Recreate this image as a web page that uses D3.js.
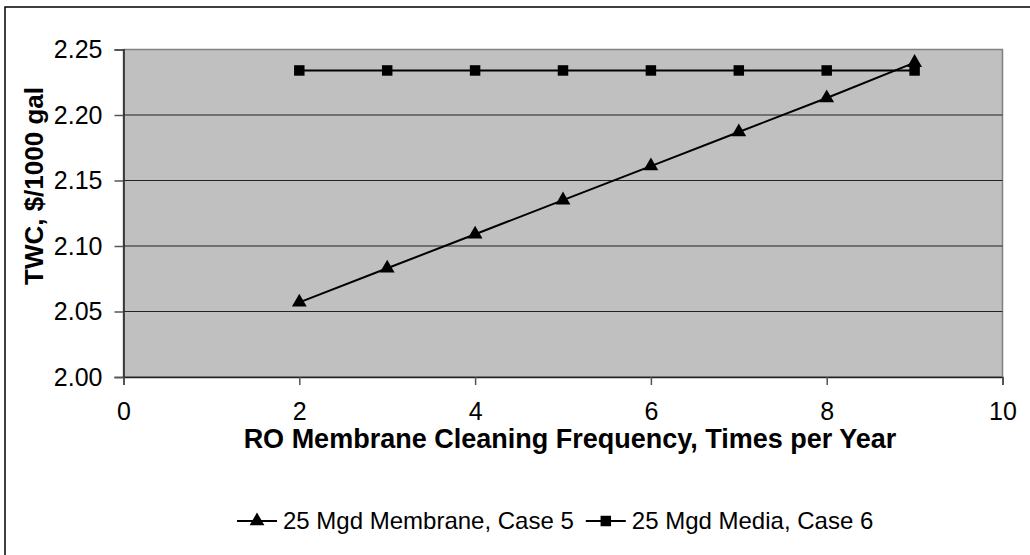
<!DOCTYPE html>
<html>
<head>
<meta charset="utf-8">
<script src="https://cdn.jsdelivr.net/npm/d3@7"></script>
<style>
  body { margin: 0; background: #fff; }
  svg { display: block; font-family: "Liberation Sans", Arial, sans-serif; }
</style>
</head>
<body>
<svg id="MyGraph" width="1030" height="555"></svg>
<script>
// cleaning frequency, times per year
var freq = [2, 3, 4, 5, 6, 7, 8, 9];
// TWC, $/1000 gal
var membraneCase5 = [2.057, 2.083, 2.109, 2.135, 2.161, 2.187, 2.213, 2.240];
var mediaCase6 = [2.234, 2.234, 2.234, 2.234, 2.234, 2.234, 2.234, 2.234];
var seriesNames = ["25 Mgd Membrane, Case 5", "25 Mgd Media, Case 6"];
var xTicks = [0, 2, 4, 6, 8, 10];
var yTicks = [2.00, 2.05, 2.10, 2.15, 2.20, 2.25];

var svg = d3.select("#MyGraph");

// outer chart frame (right/bottom edges fall outside the picture)
svg.append("rect")
    .attr("x", 5).attr("y", 7)
    .attr("width", 1040).attr("height", 560)
    .attr("fill", "#fff")
    .attr("stroke", "#000")
    .attr("stroke-width", 1.5);

var margin = {top: 49.5, left: 123.5},
    width = 1002.5 - 123.5,
    height = 377 - 49.5,
    g = svg.append("g").attr("transform", "translate(" + margin.left + "," + margin.top + ")");

var x = d3.scaleLinear().domain([0, 10]).range([0, width]);
var y = d3.scaleLinear().domain([2.00, 2.25]).range([height, 0]);

g.append("rect")
    .attr("width", width).attr("height", height)
    .attr("fill", "#c0c0c0")
    .attr("stroke", "#808080")
    .attr("stroke-width", 1.5);

// gridlines
g.append("g")
    .selectAll("line")
    .data(yTicks.slice(1, -1))
    .enter().append("line")
    .attr("x1", 0).attr("x2", width)
    .attr("y1", function(d) { return y(d); })
    .attr("y2", function(d) { return y(d); })
    .attr("stroke", "#222")
    .attr("stroke-width", 1);

var yAxis = g.append("g")
    .call(d3.axisLeft(y).tickValues(yTicks).tickFormat(d3.format(".2f")).tickSizeOuter(0).tickSize(9).tickPadding(12));
var xAxis = g.append("g")
    .attr("transform", "translate(0," + height + ")")
    .call(d3.axisBottom(x).tickValues(xTicks).tickSizeOuter(0).tickSize(8).tickPadding(17));

[yAxis, xAxis].forEach(function(a) {
  a.select(".domain").attr("stroke", "#222").attr("stroke-width", 1.5);
  a.selectAll(".tick line").attr("stroke", "#555").attr("stroke-width", 1.5);
  a.selectAll("text").attr("fill", "#000").style("font-size", "25px").style("font-family", "Liberation Sans, Arial, sans-serif");
});

// axis titles
svg.append("text")
    .attr("x", 570).attr("y", 448)
    .attr("text-anchor", "middle")
    .attr("font-weight", "bold")
    .attr("font-size", 27)
    .text("RO Membrane Cleaning Frequency, Times per Year");

svg.append("text")
    .attr("transform", "translate(43,186) rotate(-90)")
    .attr("text-anchor", "middle")
    .attr("font-weight", "bold")
    .attr("font-size", 26)
    .text("TWC, $/1000 gal");

var line = d3.line()
    .x(function(d) { return x(d[0]); })
    .y(function(d) { return y(d[1]); });

var triangle = d3.symbol().type(d3.symbolTriangle).size(95);
var square = d3.symbol().type(d3.symbolSquare).size(110);

function drawSeries(vals, sym) {
  var pts = freq.map(function(f, i) { return [f, vals[i]]; });
  g.append("path")
      .datum(pts)
      .attr("d", line)
      .attr("fill", "none")
      .attr("stroke", "#000")
      .attr("stroke-width", 2);
  g.append("g")
      .selectAll("path")
      .data(pts)
      .enter().append("path")
      .attr("transform", function(d) { return "translate(" + x(d[0]) + "," + y(d[1]) + ")"; })
      .attr("d", sym)
      .attr("fill", "#000");
}

drawSeries(mediaCase6, square);
drawSeries(membraneCase5, triangle);

// legend
var legend = svg.append("g").attr("font-size", 24);
var lx = 237, ly = 521;
[triangle, square].forEach(function(sym, i) {
  var lg = legend.append("g").attr("transform", "translate(" + lx + "," + ly + ")");
  lg.append("line").attr("x1", 0).attr("x2", 40).attr("stroke", "#000").attr("stroke-width", 2);
  lg.append("path").attr("transform", "translate(20,0)").attr("d", sym).attr("fill", "#000");
  var t = lg.append("text").attr("x", 46).attr("dy", "0.35em").text(seriesNames[i]);
  lx += 46 + t.node().getComputedTextLength() + 12;
});
</script>
</body>
</html>
